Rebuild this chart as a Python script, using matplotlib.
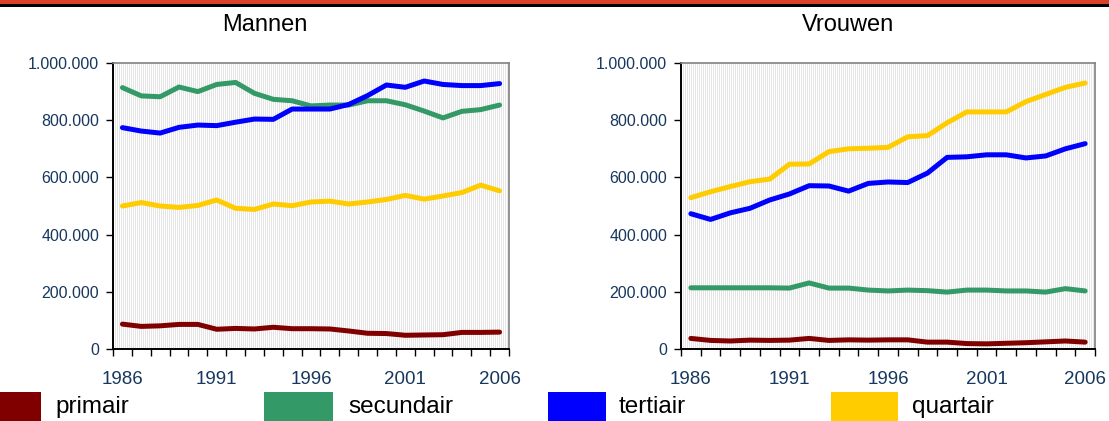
import matplotlib
matplotlib.use("Agg")
import numpy as np
import matplotlib.pyplot as plt
import matplotlib.patches as mpatches
from matplotlib.ticker import FuncFormatter, MultipleLocator

plt.rcParams['font.family'] = ['Liberation Sans', 'DejaVu Sans']

years = list(range(1986, 2007))
sectors = ['primair', 'secundair', 'tertiair', 'quartair']
colors = ['#800000', '#339966', '#0000ff', '#ffcc00']

# Mannen (werkzame personen)
man_primair = [87000, 79000, 81000, 86000, 86000, 69000, 72000, 70000, 76000, 71000, 71000,
               70000, 63000, 55000, 54000, 48000, 49000, 50000, 58000, 58000, 59000]
man_secundair = [914000, 885000, 882000, 916000, 900000, 925000, 932000, 894000, 873000, 868000, 850000,
                 853000, 853000, 868000, 868000, 854000, 832000, 808000, 831000, 837000, 853000]
man_tertiair = [774000, 762000, 755000, 775000, 783000, 781000, 793000, 804000, 803000, 839000, 839000,
                839000, 855000, 886000, 923000, 915000, 937000, 925000, 921000, 921000, 928000]
man_quartair = [500000, 512000, 500000, 495000, 502000, 521000, 492000, 488000, 507000, 501000, 514000,
                517000, 507000, 514000, 523000, 537000, 524000, 535000, 547000, 573000, 553000]

# Vrouwen
vrouw_primair = [37000, 30000, 28000, 31000, 30000, 31000, 37000, 30000, 32000, 31000, 32000,
                 32000, 24000, 24000, 19000, 18000, 20000, 22000, 25000, 28000, 24000]
vrouw_secundair = [214000, 214000, 214000, 214000, 214000, 213000, 231000, 213000, 213000, 206000, 203000,
                   206000, 204000, 199000, 206000, 206000, 203000, 203000, 199000, 211000, 203000]
vrouw_tertiair = [473000, 453000, 476000, 492000, 521000, 542000, 571000, 570000, 552000, 579000, 584000,
                  582000, 615000, 670000, 672000, 679000, 679000, 668000, 675000, 700000, 718000]
vrouw_quartair = [529000, 550000, 568000, 585000, 594000, 646000, 647000, 690000, 700000, 702000, 705000,
                  742000, 746000, 791000, 829000, 829000, 829000, 865000, 890000, 915000, 930000]

man = [man_primair, man_secundair, man_tertiair, man_quartair]
vrouw = [vrouw_primair, vrouw_secundair, vrouw_tertiair, vrouw_quartair]

W, H = 1109, 421
fig = plt.figure(figsize=(W / 100, H / 100), dpi=100)

# red header band (cut off at top)
fig.add_artist(mpatches.Rectangle((0, 1 - 4.5 / H), 1, 4.5 / H, transform=fig.transFigure,
                                  facecolor='#d9412b', edgecolor='none'))
fig.add_artist(mpatches.Rectangle((0, 1 - 6.5 / H), 1, 2 / H, transform=fig.transFigure,
                                  facecolor='black', edgecolor='none'))

label_color = '#17375e'


def fmt(v, pos):
    return f"{int(v):,}".replace(',', '.')


def draw(ax, data, width_px):
    n = len(years)
    x = list(range(n))
    # fine vertical stripes in the plot area
    step = 2.0 * n / width_px
    ax.vlines(np.arange(-0.5, n - 0.5, step), 0, 1, transform=ax.get_xaxis_transform(),
              color='#dadada', lw=0.5, zorder=0)
    for vals, c in zip(data, colors):
        ax.plot(x, vals, color=c, lw=3.6, solid_capstyle='round', solid_joinstyle='round', zorder=3)
    ax.set_xlim(-0.5, n - 0.5)
    ax.set_ylim(0, 1000000)
    ax.yaxis.set_major_locator(MultipleLocator(200000))
    ax.yaxis.set_major_formatter(FuncFormatter(fmt))
    ax.set_xticks([i - 0.5 for i in range(n + 1)])
    ax.set_xticklabels([])
    ax.set_xticks([0, 5, 10, 15, 20], minor=True)
    ax.set_xticklabels([str(years[i]) for i in [0, 5, 10, 15, 20]], minor=True)
    ax.tick_params(axis='x', which='major', direction='out', length=5, width=1, color='black')
    ax.tick_params(axis='x', which='minor', length=0, pad=16, labelsize=13.5, labelcolor=label_color)
    ax.tick_params(axis='y', direction='out', length=5, width=1, labelsize=11.5,
                   labelcolor=label_color, pad=5)
    for s in ['top', 'right']:
        ax.spines[s].set_color('#808080')
        ax.spines[s].set_linewidth(1.2)
    for s in ['left', 'bottom']:
        ax.spines[s].set_color('black')
        ax.spines[s].set_linewidth(1.4)


ax1 = fig.add_axes([113 / W, 1 - 349 / H, 396 / W, 286 / H])
ax2 = fig.add_axes([681 / W, 1 - 349 / H, 414 / W, 286 / H])
draw(ax1, man, 396)
draw(ax2, vrouw, 414)
fig.text(265 / W, 1 - 31 / H, 'Mannen', fontsize=17, ha='center', va='baseline')
fig.text(848 / W, 1 - 31 / H, 'Vrouwen', fontsize=17, ha='center', va='baseline')

# legend along the bottom
patch_x = [0, 264, 548, 831]
patch_w = [41, 69, 58, 67]
text_x = [55, 348, 619, 912]
for px, pw, tx, name, c in zip(patch_x, patch_w, text_x, sectors, colors):
    fig.add_artist(mpatches.Rectangle((px / W, 0), pw / W, 29 / H, transform=fig.transFigure,
                                      facecolor=c, edgecolor='none'))
    fig.text(tx / W, 8 / H, name, fontsize=17.5, va='baseline', ha='left')

fig.savefig('out.png', dpi=100)
